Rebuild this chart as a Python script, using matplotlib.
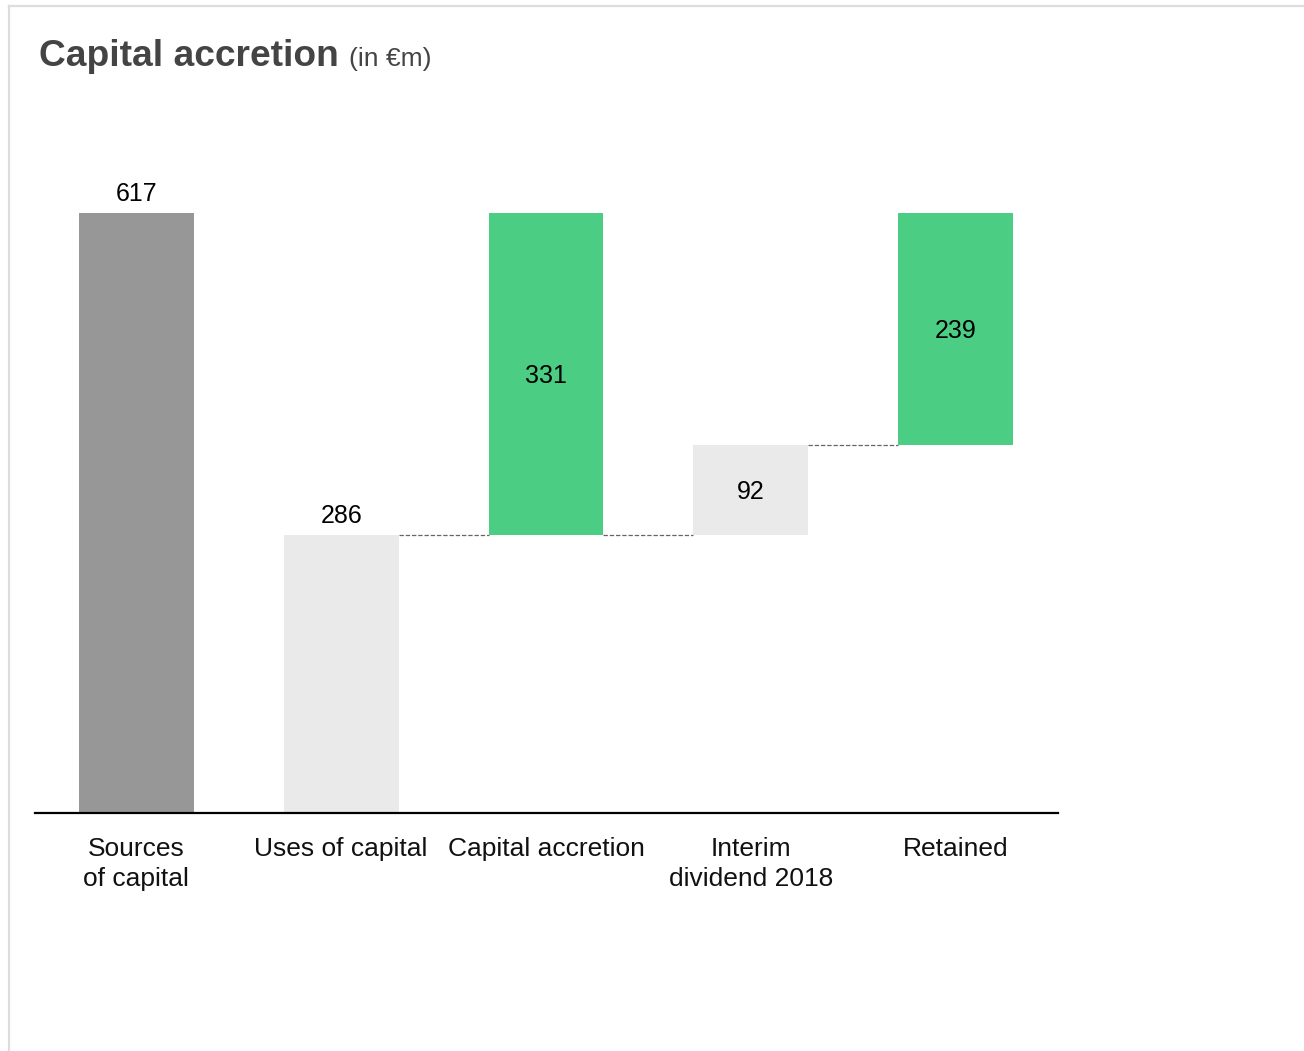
import matplotlib
matplotlib.use("Agg")
import matplotlib.pyplot as plt
from matplotlib.lines import Line2D

plt.rcParams['font.family'] = ['Liberation Sans', 'DejaVu Sans']

# Waterfall data (in €m)
categories = ["Sources\nof capital", "Uses of capital", "Capital accretion",
              "Interim\ndividend 2018", "Retained"]
sources = 617
uses = 286
accretion = 331
interim = 92
retained = 239

values = [sources, uses, accretion, interim, retained]
bottoms = [0, 0, uses, uses, uses + interim]
colors = ["#979797", "#EAEAEA", "#4BCD84", "#EAEAEA", "#4BCD84"]
label_inside = [False, False, True, True, True]

W, H = 1304, 1051
fig = plt.figure(figsize=(W / 100, H / 100), dpi=100)
fig.patch.set_facecolor("white")

# panel frame (top and left edges)
frame_kw = dict(color="#DDDDDD", linewidth=1.6, transform=fig.transFigure)
fig.add_artist(Line2D([9 / W, 1.0], [1 - 6 / H, 1 - 6 / H], **frame_kw))
fig.add_artist(Line2D([9 / W, 9 / W], [0.0, 1 - 6 / H], **frame_kw))

# title
fig.text(39 / W, 1 - 66 / H, "Capital accretion", fontsize=26.7,
         fontweight="bold", color="#444444", ha="left", va="baseline")
fig.text(349 / W, 1 - 66 / H, "(in €m)", fontsize=19, color="#444444",
         ha="left", va="baseline")

ax_left, ax_right = 35, 1058
ax_base, ax_top = 813, 213
ax = fig.add_axes([ax_left / W, 1 - ax_base / H, (ax_right - ax_left) / W,
                   (ax_base - ax_top) / H])
ax.set_xlim(-0.495, 4.5)
ax.set_ylim(0, sources)

bar_w = 0.56
x = list(range(len(categories)))
ax.bar(x, values, bottom=bottoms, width=bar_w, color=colors, zorder=2)

# connector lines between steps
def connector(i0, i1, level):
    ax.plot([x[i0] + bar_w / 2, x[i1] - bar_w / 2], [level, level],
            color="#666666", linewidth=0.9, linestyle=(0, (3.5, 1.5)),
            zorder=1, clip_on=False)

connector(1, 2, uses)
connector(2, 3, uses)
connector(3, 4, uses + interim)

# value labels
for xi, v, b, inside in zip(x, values, bottoms, label_inside):
    if inside:
        ax.annotate(f"{v}", xy=(xi, b + v / 2), xytext=(0, -1.5),
                    textcoords="offset points", ha="center", va="center",
                    fontsize=18, color="#000000")
    else:
        ax.annotate(f"{v}", xy=(xi, b + v), xytext=(0, 5),
                    textcoords="offset points", ha="center", va="bottom",
                    fontsize=18, color="#000000", annotation_clip=False)

# category labels
for xi, lab in zip(x, categories):
    ax.annotate(lab, xy=(xi, 0), xytext=(0, -17), textcoords="offset points",
                ha="center", va="top", fontsize=19, color="#111111",
                linespacing=1.36, annotation_clip=False)

for s in ["top", "right", "left"]:
    ax.spines[s].set_visible(False)
ax.spines["bottom"].set_linewidth(1.6)
ax.spines["bottom"].set_color("#000000")
ax.set_xticks([])
ax.set_yticks([])
ax.patch.set_alpha(0)

fig.savefig("out.png", dpi=100)
